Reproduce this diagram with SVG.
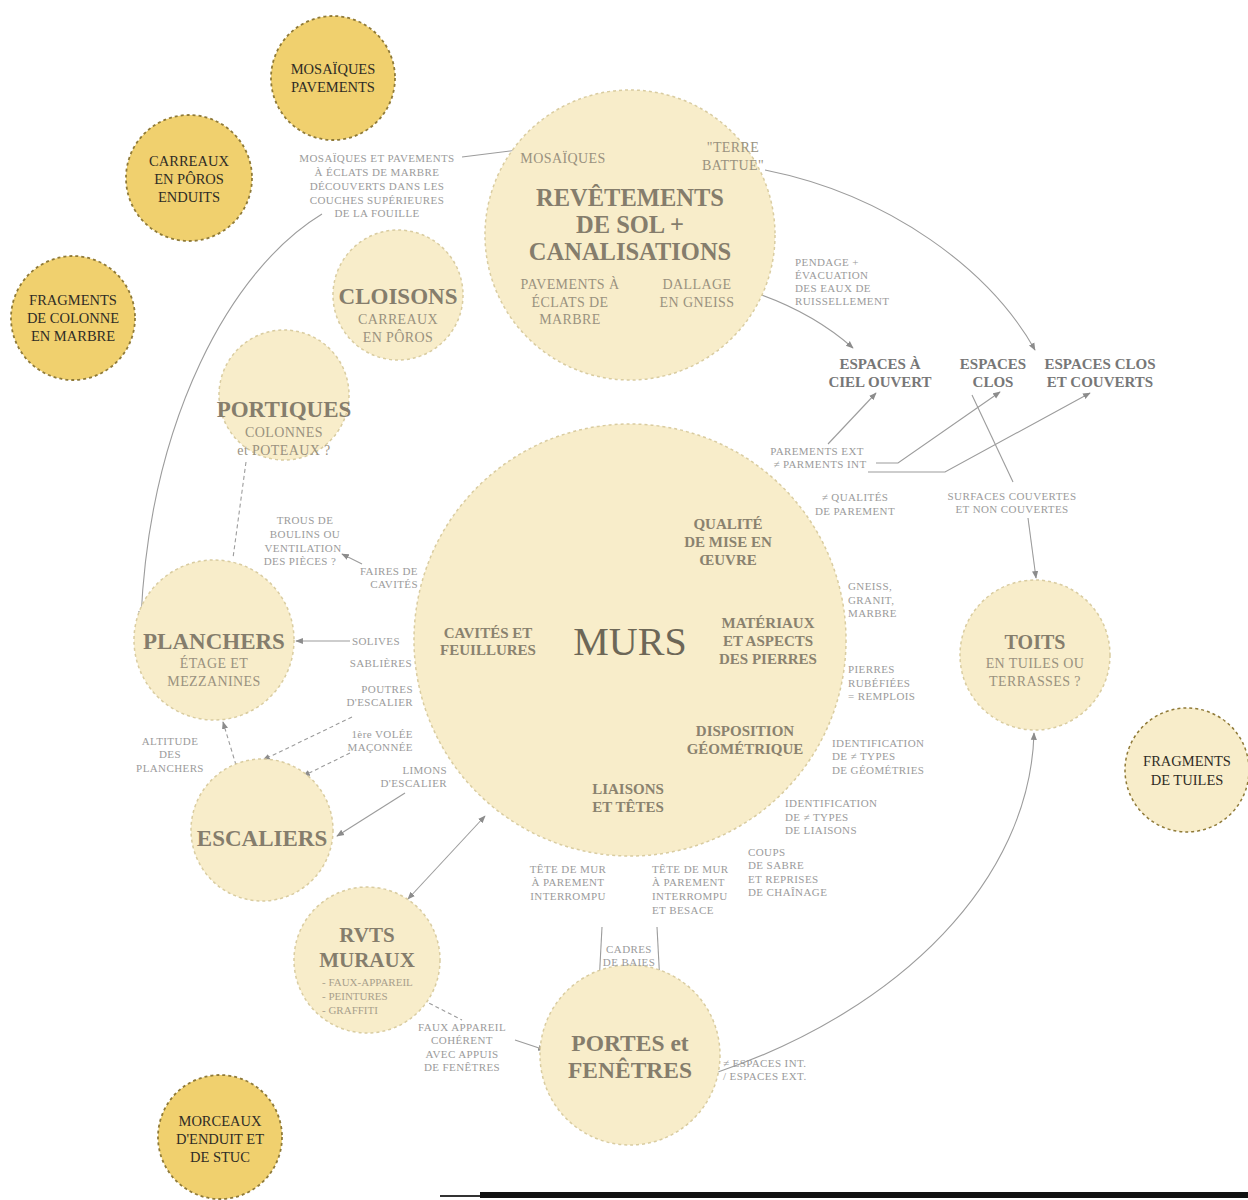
<svg xmlns="http://www.w3.org/2000/svg" width="1248" height="1200" viewBox="0 0 1248 1200">
<defs>
<style>
.lc{fill:#F8EDCA;stroke:#D9CCA0;stroke-width:1.5;stroke-dasharray:3 3}
.gc{fill:#F0D06E;stroke:#8f7a38;stroke-width:1.8;stroke-dasharray:3 3}
text{font-family:"Liberation Serif","DejaVu Serif",serif;text-anchor:middle}
.t{font-size:23px;font-weight:bold;fill:#857d6c}
.big{font-size:24.5px;font-weight:bold;fill:#857d6c}
.sub{font-size:14px;letter-spacing:0.4px;fill:#9a927f}
.m{font-size:15px;font-weight:bold;fill:#8a826f}
.g{font-size:14.5px;fill:#2f2c25}
.s{font-size:11px;letter-spacing:0.4px;fill:#9b9b9b}
.e{font-size:15px;font-weight:bold;fill:#777}
.l{text-anchor:start}
.r{text-anchor:end}
.c{fill:none;stroke:#9c9c9c;stroke-width:1.1}
.d{stroke-dasharray:4 3}
</style>
<marker id="a" viewBox="0 0 10 10" refX="9" refY="5" markerWidth="7" markerHeight="7" orient="auto-start-reverse"><path d="M0,1 L10,5 L0,9 z" fill="#8c8c8c"/></marker>
</defs>
<rect width="1248" height="1200" fill="#fff"/>

<g id="connectors">
<path class="c" d="M518 150 L462 157"/>
<path class="c" d="M322 214 C230 270,150 420,141 618" marker-end="url(#a)"/>
<path class="c" d="M765 170 C890 195,990 270,1035 350" marker-end="url(#a)"/>
<path class="c" d="M747 290 Q810 310 853 348" marker-end="url(#a)"/>
<path class="c" d="M828 444 L876 393" marker-end="url(#a)"/>
<path class="c" d="M876 463 L898 463 L1000 392" marker-end="url(#a)"/>
<path class="c" d="M868 472 L945 472 L1090 393" marker-end="url(#a)"/>
<path class="c" d="M972 395 L1013 482"/>
<path class="c" d="M1028 518 L1036 578" marker-end="url(#a)"/>
<path class="c" d="M362 564 L342 554" marker-end="url(#a)"/>
<path class="c d" d="M246 462 L233 558"/>
<path class="c" d="M350 641 L296 641" marker-end="url(#a)"/>
<path class="c d" d="M236 765 L223 722" marker-end="url(#a)"/>
<path class="c d" d="M352 717 L263 760" marker-end="url(#a)"/>
<path class="c d" d="M350 753 L303 776" marker-end="url(#a)"/>
<path class="c" d="M405 793 L337 836" marker-end="url(#a)"/>
<path class="c" d="M485 816 L408 899" marker-start="url(#a)" marker-end="url(#a)"/>
<path class="c d" d="M423 1000 L462 1020"/>
<path class="c" d="M515 1040 L545 1050" marker-end="url(#a)"/>
<path class="c" d="M602 927 L598 1003" marker-end="url(#a)"/>
<path class="c" d="M657 927 L661 1003" marker-end="url(#a)"/>
<path class="c" d="M718 1072 C900 1010,1030 880,1034 733" marker-end="url(#a)"/>
</g>

<g id="murs">
<circle class="lc" cx="630" cy="640" r="216"/>
<text x="630" y="655" style="font-size:40px;fill:#6d6757">MURS</text>
<text class="m" x="728" y="529">QUALITÉ</text>
<text class="m" x="728" y="547">DE MISE EN</text>
<text class="m" x="728" y="565">ŒUVRE</text>
<text class="m" x="768" y="628">MATÉRIAUX</text>
<text class="m" x="768" y="646">ET ASPECTS</text>
<text class="m" x="768" y="664">DES PIERRES</text>
<text class="m" x="745" y="736">DISPOSITION</text>
<text class="m" x="745" y="754">GÉOMÉTRIQUE</text>
<text class="m" x="628" y="794">LIAISONS</text>
<text class="m" x="628" y="812">ET TÊTES</text>
<text class="m" x="488" y="638">CAVITÉS ET</text>
<text class="m" x="488" y="655">FEUILLURES</text>
</g>

<g id="revetements">
<circle class="lc" cx="630" cy="235" r="145"/>
<text class="sub" x="563" y="163">MOSAÏQUES</text>
<text class="sub" x="733" y="152">"TERRE</text>
<text class="sub" x="733" y="170">BATTUE"</text>
<text class="big" x="630" y="206">REVÊTEMENTS</text>
<text class="big" x="630" y="233">DE SOL +</text>
<text class="big" x="630" y="260">CANALISATIONS</text>
<text class="sub" x="570" y="289">PAVEMENTS À</text>
<text class="sub" x="570" y="307">ÉCLATS DE</text>
<text class="sub" x="570" y="324">MARBRE</text>
<text class="sub" x="697" y="289">DALLAGE</text>
<text class="sub" x="697" y="307">EN GNEISS</text>
</g>

<g id="cloisons">
<circle class="lc" cx="398" cy="295" r="65"/>
<text class="t" x="398" y="304">CLOISONS</text>
<text class="sub" x="398" y="324">CARREAUX</text>
<text class="sub" x="398" y="342">EN PÔROS</text>
</g>

<g id="portiques">
<circle class="lc" cx="284" cy="395" r="65"/>
<text class="t" x="284" y="417">PORTIQUES</text>
<text class="sub" x="284" y="437">COLONNES</text>
<text class="sub" x="284" y="455">et POTEAUX ?</text>
</g>

<g id="planchers">
<circle class="lc" cx="214" cy="640" r="80"/>
<text class="t" x="214" y="649">PLANCHERS</text>
<text class="sub" x="214" y="668">ÉTAGE ET</text>
<text class="sub" x="214" y="686">MEZZANINES</text>
</g>

<g id="escaliers">
<circle class="lc" cx="262" cy="830" r="71"/>
<text class="t" x="262" y="846">ESCALIERS</text>
</g>

<g id="rvts">
<circle class="lc" cx="367" cy="960" r="73"/>
<text class="t" x="367" y="942" style="font-size:21px">RVTS</text>
<text class="t" x="367" y="967" style="font-size:21px">MURAUX</text>
<text class="s l" x="322" y="986" style="fill:#a8a08c;letter-spacing:0">- FAUX-APPAREIL</text>
<text class="s l" x="322" y="1000" style="fill:#a8a08c;letter-spacing:0">- PEINTURES</text>
<text class="s l" x="322" y="1014" style="fill:#a8a08c;letter-spacing:0">- GRAFFITI</text>
</g>

<g id="portes">
<circle class="lc" cx="630" cy="1055" r="90"/>
<text class="t" x="630" y="1051" style="font-size:23.5px">PORTES et</text>
<text class="t" x="630" y="1078" style="font-size:23.5px">FENÊTRES</text>
</g>

<g id="toits">
<circle class="lc" cx="1035" cy="655" r="75"/>
<text class="t" x="1035" y="649" style="font-size:20px">TOITS</text>
<text class="sub" x="1035" y="668">EN TUILES OU</text>
<text class="sub" x="1035" y="686">TERRASSES ?</text>
</g>

<g id="mosaiques-pavements">
<circle class="gc" cx="333" cy="78" r="62"/>
<text class="g" x="333" y="74">MOSAÏQUES</text>
<text class="g" x="333" y="92">PAVEMENTS</text>
</g>

<g id="carreaux">
<circle class="gc" cx="189" cy="178" r="63"/>
<text class="g" x="189" y="166">CARREAUX</text>
<text class="g" x="189" y="184">EN PÔROS</text>
<text class="g" x="189" y="202">ENDUITS</text>
</g>

<g id="fragments-colonne">
<circle class="gc" cx="73" cy="318" r="62"/>
<text class="g" x="73" y="305">FRAGMENTS</text>
<text class="g" x="73" y="323">DE COLONNE</text>
<text class="g" x="73" y="341">EN MARBRE</text>
</g>

<g id="fragments-tuiles">
<circle class="lc" cx="1187" cy="770" r="62" style="stroke:#8f7a38"/>
<text class="g" x="1187" y="766">FRAGMENTS</text>
<text class="g" x="1187" y="785">DE TUILES</text>
</g>

<g id="morceaux">
<circle class="gc" cx="220" cy="1137" r="62"/>
<text class="g" x="220" y="1126">MORCEAUX</text>
<text class="g" x="220" y="1144">D'ENDUIT ET</text>
<text class="g" x="220" y="1162">DE STUC</text>
</g>

<g id="espaces">
<text class="e" x="880" y="369">ESPACES À</text>
<text class="e" x="880" y="387">CIEL OUVERT</text>
<text class="e" x="993" y="369">ESPACES</text>
<text class="e" x="993" y="387">CLOS</text>
<text class="e" x="1100" y="369">ESPACES CLOS</text>
<text class="e" x="1100" y="387">ET COUVERTS</text>
</g>

<g id="labels">
<text class="s" x="377" y="162">MOSAÏQUES ET PAVEMENTS</text>
<text class="s" x="377" y="176">À ÉCLATS DE MARBRE</text>
<text class="s" x="377" y="190">DÉCOUVERTS DANS LES</text>
<text class="s" x="377" y="204">COUCHES SUPÉRIEURES</text>
<text class="s" x="377" y="217">DE LA FOUILLE</text>

<text class="s l" x="795" y="266">PENDAGE +</text>
<text class="s l" x="795" y="279">ÉVACUATION</text>
<text class="s l" x="795" y="292">DES EAUX DE</text>
<text class="s l" x="795" y="305">RUISSELLEMENT</text>

<text class="s" x="817" y="455">PAREMENTS EXT</text>
<text class="s" x="820" y="468">≠ PARMENTS INT</text>
<text class="s" x="855" y="501">≠ QUALITÉS</text>
<text class="s" x="855" y="515">DE PAREMENT</text>
<text class="s" x="1012" y="500">SURFACES COUVERTES</text>
<text class="s" x="1012" y="513">ET NON COUVERTES</text>

<text class="s" x="305" y="524">TROUS DE</text>
<text class="s" x="305" y="538">BOULINS OU</text>
<text class="s" x="303" y="552">VENTILATION</text>
<text class="s" x="300" y="565">DES PIÈCES ?</text>
<text class="s r" x="418" y="575">FAIRES DE</text>
<text class="s r" x="418" y="588">CAVITÉS</text>

<text class="s r" x="400" y="645">SOLIVES</text>
<text class="s r" x="412" y="667">SABLIÈRES</text>
<text class="s r" x="413" y="693">POUTRES</text>
<text class="s r" x="413" y="706">D'ESCALIER</text>
<text class="s r" x="413" y="738">1ère VOLÉE</text>
<text class="s r" x="413" y="751">MAÇONNÉE</text>
<text class="s r" x="447" y="774">LIMONS</text>
<text class="s r" x="447" y="787">D'ESCALIER</text>

<text class="s" x="170" y="745">ALTITUDE</text>
<text class="s" x="170" y="758">DES</text>
<text class="s" x="170" y="772">PLANCHERS</text>

<text class="s l" x="848" y="590">GNEISS,</text>
<text class="s l" x="848" y="604">GRANIT,</text>
<text class="s l" x="848" y="617">MARBRE</text>
<text class="s l" x="848" y="673">PIERRES</text>
<text class="s l" x="848" y="687">RUBÉFIÉES</text>
<text class="s l" x="848" y="700">= REMPLOIS</text>
<text class="s l" x="832" y="747">IDENTIFICATION</text>
<text class="s l" x="832" y="760">DE ≠ TYPES</text>
<text class="s l" x="832" y="774">DE GÉOMÉTRIES</text>
<text class="s l" x="785" y="807">IDENTIFICATION</text>
<text class="s l" x="785" y="821">DE ≠ TYPES</text>
<text class="s l" x="785" y="834">DE LIAISONS</text>
<text class="s l" x="748" y="856">COUPS</text>
<text class="s l" x="748" y="869">DE SABRE</text>
<text class="s l" x="748" y="883">ET REPRISES</text>
<text class="s l" x="748" y="896">DE CHAÎNAGE</text>

<text class="s" x="568" y="873">TÊTE DE MUR</text>
<text class="s" x="568" y="886">À PAREMENT</text>
<text class="s" x="568" y="900">INTERROMPU</text>
<text class="s l" x="652" y="873">TÊTE DE MUR</text>
<text class="s l" x="652" y="886">À PAREMENT</text>
<text class="s l" x="652" y="900">INTERROMPU</text>
<text class="s l" x="652" y="914">ET BESACE</text>
<text class="s" x="629" y="953">CADRES</text>
<text class="s" x="629" y="966">DE BAIES</text>

<text class="s" x="462" y="1031">FAUX APPAREIL</text>
<text class="s" x="462" y="1044">COHÉRENT</text>
<text class="s" x="462" y="1058">AVEC APPUIS</text>
<text class="s" x="462" y="1071">DE FENÊTRES</text>

<text class="s l" x="723" y="1067">≠ ESPACES INT.</text>
<text class="s l" x="723" y="1080">/ ESPACES EXT.</text>
</g>

<rect x="480" y="1192" width="768" height="6" fill="#111"/>
<rect x="440" y="1195" width="40" height="2" fill="#333"/>
</svg>
